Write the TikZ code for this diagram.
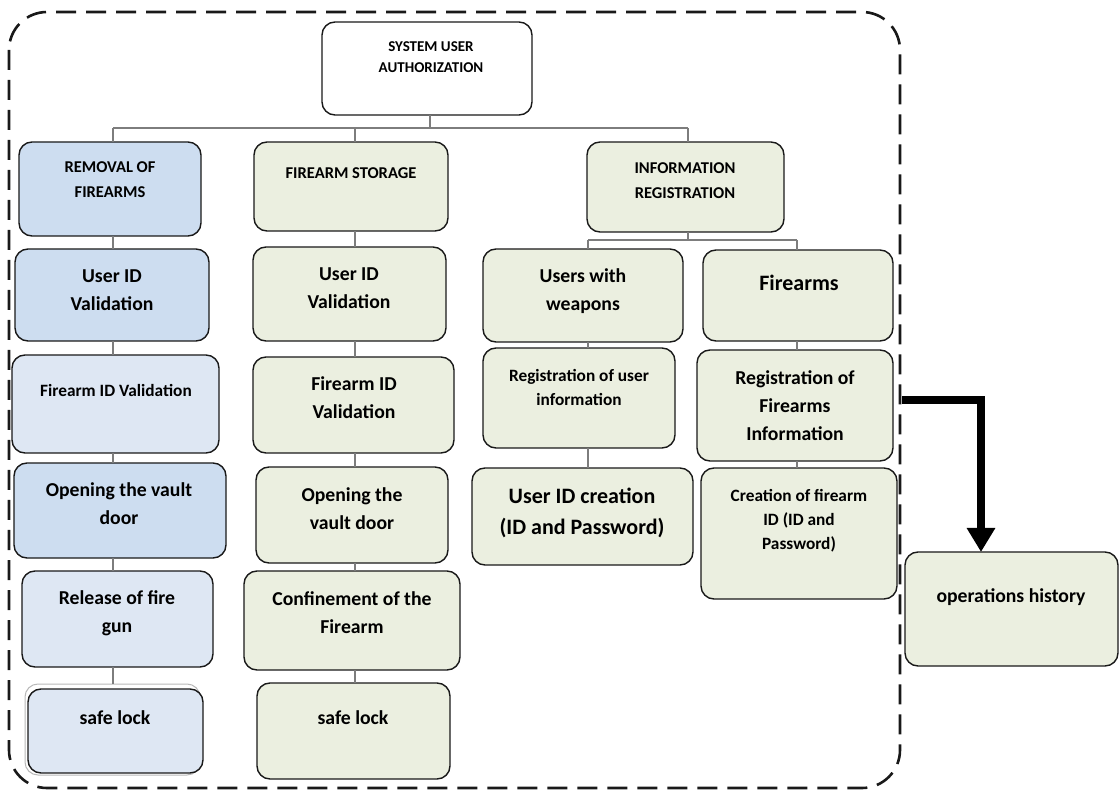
\documentclass[tikz,border=0pt]{standalone}
\usepackage{fontspec}
\setmainfont{Carlito}
\usetikzlibrary{arrows.meta}
\definecolor{bluedk}{RGB}{205,221,240}
\definecolor{bluelt}{RGB}{222,231,243}
\definecolor{grn}{RGB}{235,239,224}
\definecolor{bordc}{RGB}{25,25,25}
\definecolor{connc}{RGB}{125,125,125}
\newcommand\fsTop{\fontsize{15}{21}\selectfont}
\newcommand\fsHdr{\fontsize{16.5}{25}\selectfont}
\newcommand\fsSm{\fontsize{17.3}{24}\selectfont}
\newcommand\fsMd{\fontsize{19.7}{28}\selectfont}
\newcommand\fsLg{\fontsize{22}{31}\selectfont}
\begin{document}
\begin{tikzpicture}[x=1pt,y=-1pt,
  box/.style={draw=bordc, line width=1.4pt, rounded corners=13pt, inner sep=0pt, outer sep=0pt},
  bd/.style={box, fill=bluedk},
  bl/.style={box, fill=bluelt},
  gr/.style={box, fill=grn},
  wh/.style={box, fill=white},
  txt/.style={align=center, inner sep=0pt, text=black},
  tTop/.style={txt, font=\bfseries\fsTop},
  tHdr/.style={txt, font=\bfseries\fsHdr},
  tSm/.style={txt, font=\bfseries\fsSm},
  tMd/.style={txt, font=\bfseries\fsMd},
  tLg/.style={txt, font=\bfseries\fsLg},
  conn/.style={draw=connc, line width=1.1pt},
  frame/.style={draw=black!90, line width=2.6pt, dash pattern=on 20pt off 10pt, rounded corners=38pt},
  big/.style={draw=black, line width=8pt, line join=miter, -{Triangle[width=27pt,length=24pt]}}
]
\useasboundingbox (0,0) rectangle (1120,791);
% dashed frame
\draw[frame] (9,12) rectangle (900,788);
% column coordinates
\coordinate (ct) at (430,0);
\coordinate (ci) at (688,0);
\coordinate (c1) at (113,0);
\coordinate (c2) at (355,0);
\coordinate (c3) at (588,0);
\coordinate (c4) at (797,0);
\coordinate (bus) at (0,128);
\coordinate (bus2) at (0,240);
% boxes
\node[wh, minimum width=210pt, minimum height=93pt] (top) at (427,68.5) {};
\node[bd, minimum width=182pt, minimum height=94pt] (rem) at (110,189) {};
\node[gr, minimum width=194pt, minimum height=89pt] (stor) at (351,186.5) {};
\node[gr, minimum width=197pt, minimum height=90pt] (info) at (685.5,187) {};
\node[bd, minimum width=194pt, minimum height=92pt] (uid1) at (112,295) {};
\node[bl, minimum width=207pt, minimum height=98pt] (fidv1) at (115.5,404) {};
\node[bd, minimum width=212pt, minimum height=95pt] (open1) at (120,510.5) {};
\node[bl, minimum width=191pt, minimum height=96pt] (rel) at (117.5,619) {};
\node[draw=gray!55, line width=1pt, rounded corners=13pt, inner sep=0pt, minimum width=175pt, minimum height=91pt] (safe1s) at (112.5,729.5) {};
\node[bl, minimum width=175pt, minimum height=84pt] (safe1) at (115.5,731) {};
\node[gr, minimum width=193pt, minimum height=94pt] (uid2) at (349.5,294) {};
\node[gr, minimum width=201pt, minimum height=96pt] (fidv2) at (353.5,405) {};
\node[gr, minimum width=192pt, minimum height=96pt] (open2) at (352,515) {};
\node[gr, minimum width=216pt, minimum height=99pt] (conf) at (352,620.5) {};
\node[gr, minimum width=193pt, minimum height=96pt] (safe2) at (353.5,731) {};
\node[gr, minimum width=200pt, minimum height=93pt] (uww) at (583,295.5) {};
\node[gr, minimum width=190pt, minimum height=91pt] (farms) at (798,295.5) {};
\node[gr, minimum width=192pt, minimum height=100pt] (regu) at (579,398) {};
\node[gr, minimum width=196pt, minimum height=111pt] (regf) at (795,405.5) {};
\node[gr, minimum width=221pt, minimum height=97pt] (uidc) at (582.5,516.5) {};
\node[gr, minimum width=196pt, minimum height=131pt] (crf) at (799,533.5) {};
\node[gr, minimum width=213pt, minimum height=114pt] (ops) at (1011.5,609) {};
% connectors
\draw[conn] (top.south -| ct) -- (ct |- bus);
\draw[conn] (c1 |- bus) -- (ci |- bus);
\draw[conn] (c1 |- bus) -- (rem.north -| c1);
\draw[conn] (c2 |- bus) -- (stor.north -| c2);
\draw[conn] (ci |- bus) -- (info.north -| ci);
\draw[conn] (rem.south -| c1) -- (uid1.north -| c1);
\draw[conn] (uid1.south -| c1) -- (fidv1.north -| c1);
\draw[conn] (fidv1.south -| c1) -- (open1.north -| c1);
\draw[conn] (open1.south -| c1) -- (rel.north -| c1);
\draw[conn] (rel.south -| c1) -- (safe1s.north -| c1);
\draw[conn] (stor.south -| c2) -- (uid2.north -| c2);
\draw[conn] (uid2.south -| c2) -- (fidv2.north -| c2);
\draw[conn] (fidv2.south -| c2) -- (open2.north -| c2);
\draw[conn] (open2.south -| c2) -- (conf.north -| c2);
\draw[conn] (conf.south -| c2) -- (safe2.north -| c2);
\draw[conn] (info.south -| ci) -- (ci |- bus2);
\draw[conn] (c3 |- bus2) -- (c4 |- bus2);
\draw[conn] (c3 |- bus2) -- (uww.north -| c3);
\draw[conn] (c4 |- bus2) -- (farms.north -| c4);
\draw[conn] (uww.south -| c3) -- (regu.north -| c3);
\draw[conn] (regu.south -| c3) -- (uidc.north -| c3);
\draw[conn] (farms.south -| c4) -- (regf.north -| c4);
\draw[conn] (regf.south -| c4) -- (crf.north -| c4);
% texts
\node[tTop] (top-t) at (431,57) {SYSTEM USER\\AUTHORIZATION};
\node[tHdr] (rem-t) at (110,180) {REMOVAL OF\\FIREARMS};
\node[tHdr] (stor-t) at (351,173) {FIREARM STORAGE};
\node[tHdr] (info-t) at (685,180.5) {INFORMATION\\REGISTRATION};
\node[tMd] (uid1-t) at (112,290.5) {User ID\\Validation};
\node[tSm] (fidv1-t) at (116,390) {Firearm ID Validation};
\node[tMd] (open1-t) at (119,504) {Opening the vault\\door};
\node[tMd] (rel-t) at (117,613) {Release of fire\\gun};
\node[tMd] (safe1-t) at (115,718) {safe lock};
\node[tMd] (uid2-t) at (349,288) {User ID\\Validation};
\node[tMd] (fidv2-t) at (354,397.5) {Firearm ID\\Validation};
\node[tMd] (open2-t) at (352,509) {Opening the\\vault door};
\node[tMd] (conf-t) at (352,613) {Confinement of the\\Firearm};
\node[tMd] (safe2-t) at (353,718) {safe lock};
\node[tMd] (uww-t) at (583,291) {Users with\\weapons};
\node[tLg] (farms-t) at (799,283) {Firearms};
\node[tSm] (regu-t) at (579,387) {Registration of user\\information};
\node[tMd] (regf-t) at (795,406) {Registration of\\Firearms\\Information};
\node[tLg] (uidc-t) at (582,512.5) {User ID creation\\(ID and Password)};
\node[tSm] (crf-t) at (799,520.5) {Creation of firearm\\ID (ID and\\Password)};
\node[tMd] (ops-t) at (1011,597) {operations history};
% big arrow
\coordinate (as) at (902,400);
\coordinate (ac) at (981,400);
\draw[big] (as) -- (ac) -- (ac |- ops.north);
\end{tikzpicture}
\end{document}
